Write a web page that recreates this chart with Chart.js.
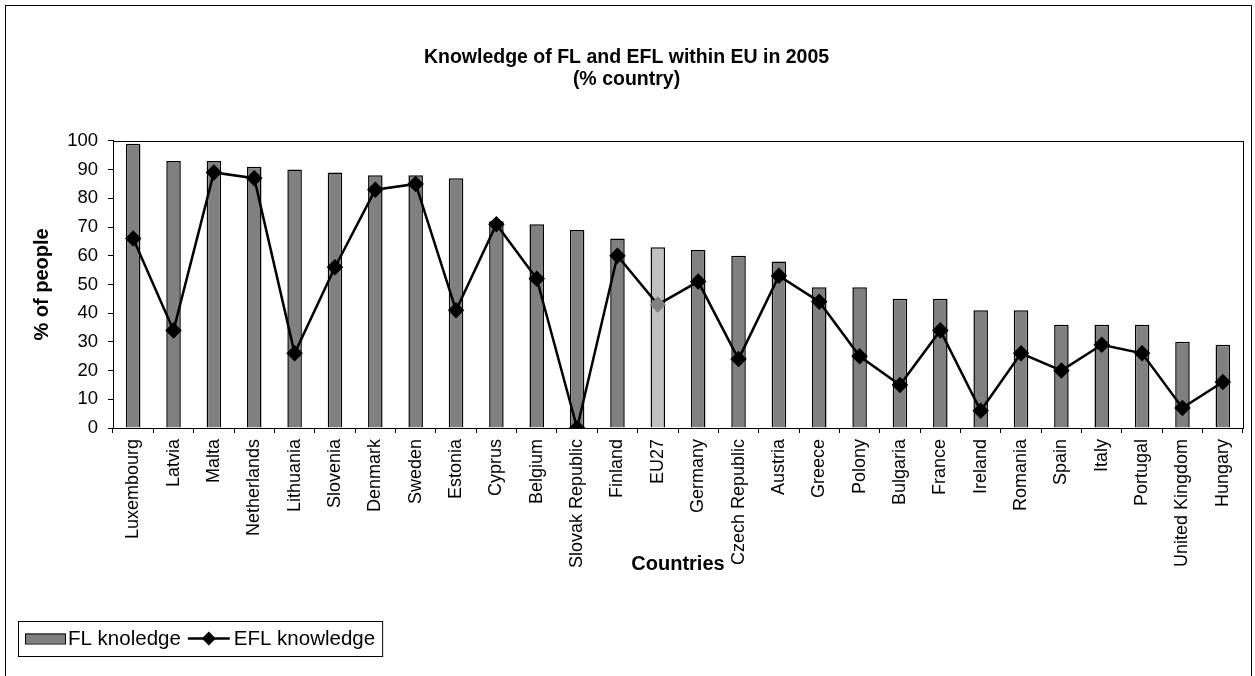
<!DOCTYPE html>
<html>
<head>
<meta charset="utf-8">
<script src="https://cdn.jsdelivr.net/npm/chart.js@4"></script>
<style>
  body { margin: 0; background: #fff; }
  #wrap { position: relative; width: 1255px; height: 676px; }
</style>
</head>
<body>
<div id="wrap"><canvas id="bar-chart"></canvas></div>
<script>
// data
const countries = ["Luxembourg", "Latvia", "Malta", "Netherlands", "Lithuania", "Slovenia", "Denmark",
  "Sweden", "Estonia", "Cyprus", "Belgium", "Slovak Republic", "Finland", "EU27", "Germany",
  "Czech Republic", "Austria", "Greece", "Polony", "Bulgaria", "France", "Ireland", "Romania",
  "Spain", "Italy", "Portugal", "United Kingdom", "Hungary"];
const flKnowledge = [99, 93, 93, 91, 90, 89, 88, 88, 87, 72, 71, 69, 66, 63, 62, 60, 58, 49, 49,
  45, 45, 41, 41, 36, 36, 36, 30, 29];
const eflKnowledge = [66, 34, 89, 87, 26, 56, 83, 85, 41, 71, 52, 0, 60, 43, 51, 24, 53, 44, 25,
  15, 34, 6, 26, 20, 29, 26, 7, 16];
const yTicks = [0, 10, 20, 30, 40, 50, 60, 70, 80, 90, 100];

// EU27 is shown lighter
const barColors = countries.map(c => c === "EU27" ? "#C0C0C0" : "#808080");
const pointColors = countries.map(c => c === "EU27" ? "#808080" : "#000000");

Chart.defaults.font.family = "'Liberation Sans', Arial, sans-serif";
Chart.defaults.color = "#000";

// frame round the whole chart and round the plot area, plus the boxed legend
const frames = {
  id: "frames",
  beforeDatasetsDraw(chart) {
    const a = chart.chartArea, c = chart.ctx;
    c.save();
    c.strokeStyle = "#000";
    c.lineWidth = 1;
    c.strokeRect(Math.round(a.left) + 0.5, Math.round(a.top) + 0.5,
      Math.round(a.right - a.left), Math.round(a.bottom - a.top));
    c.restore();
  },
  afterDraw(chart) {
    const c = chart.ctx;
    c.save();
    c.strokeStyle = "#000";
    c.lineWidth = 1;
    c.strokeRect(5.5, 5.5, chart.width - 9, chart.height + 10);

    // legend: bars first, then the line
    const bars = chart.data.datasets.find(d => d.type !== "line");
    const line = chart.data.datasets.find(d => d.type === "line");
    c.font = "20.5px 'Liberation Sans', Arial, sans-serif";
    c.textBaseline = "middle";
    const top = 621, h = 35, mid = top + h / 2;
    let x = 25;
    c.fillStyle = "#808080";
    c.fillRect(x, mid - 5, 40, 10);
    c.strokeRect(x + 0.5, mid - 4.5, 40, 10);
    x += 43;
    c.fillStyle = "#000";
    c.fillText(bars.label, x, mid + 1);
    x += c.measureText(bars.label).width + 7;
    c.lineWidth = 2.5;
    c.beginPath();
    c.moveTo(x, mid); c.lineTo(x + 42, mid);
    c.stroke();
    c.beginPath();
    c.moveTo(x + 21, mid - 7); c.lineTo(x + 28, mid); c.lineTo(x + 21, mid + 7); c.lineTo(x + 14, mid);
    c.closePath();
    c.fill();
    x += 46;
    c.fillText(line.label, x, mid + 1);
    x += c.measureText(line.label).width + 7;
    c.lineWidth = 1;
    c.strokeRect(18.5, top + 0.5, x - 18, h);
    c.restore();
  }
};

new Chart(document.getElementById("bar-chart"), {
  type: "bar",
  data: {
    labels: countries,
    datasets: [{
      type: "line",
      label: "EFL knowledge",
      data: eflKnowledge,
      borderColor: "#000",
      borderWidth: 2.5,
      tension: 0,
      pointStyle: "rectRot",
      pointRadius: 6.5,
      pointBackgroundColor: pointColors,
      pointBorderColor: pointColors,
      order: 0
    }, {
      type: "bar",
      label: "FL knoledge",
      data: flKnowledge,
      backgroundColor: barColors,
      borderColor: "#000",
      borderWidth: 1.5,
      barPercentage: 0.36,
      categoryPercentage: 1,
      order: 1
    }]
  },
  plugins: [frames],
  options: {
    responsive: true,
    maintainAspectRatio: false,
    animation: false,
    layout: { padding: { left: 10, right: 12, top: 0, bottom: 100 } },
    plugins: {
      legend: { display: false },
      tooltip: { enabled: false },
      title: {
        display: true,
        text: ["Knowledge of FL and EFL within EU in 2005", "(% country)"],
        font: { size: 19.5, weight: "bold", lineHeight: 1.1 },
        color: "#000",
        padding: { top: 47, bottom: 51 }
      }
    },
    scales: {
      x: {
        grid: { offset: true, drawOnChartArea: false, color: "#000", tickLength: 5 },
        border: { color: "#000" },
        ticks: { minRotation: 90, maxRotation: 90, padding: 6, font: { size: 18 }, autoSkip: false },
        title: { display: true, text: "Countries", font: { size: 20, weight: "bold" }, padding: { top: 0, bottom: 0 } },
        afterFit(scale) { scale.height = 148; }
      },
      y: {
        min: 0,
        max: 100,
        afterBuildTicks(scale) { scale.ticks = yTicks.map(v => ({ value: v })); },
        grid: { drawOnChartArea: false, color: "#000", tickLength: 5 },
        border: { color: "#000" },
        ticks: { padding: 10, font: { size: 18.5 } },
        title: { display: true, text: "% of people", font: { size: 20, weight: "bold" }, padding: { top: 20, bottom: 0 } },
        afterFit(scale) { scale.width = 103; }
      }
    }
  }
});
</script>
</body>
</html>
